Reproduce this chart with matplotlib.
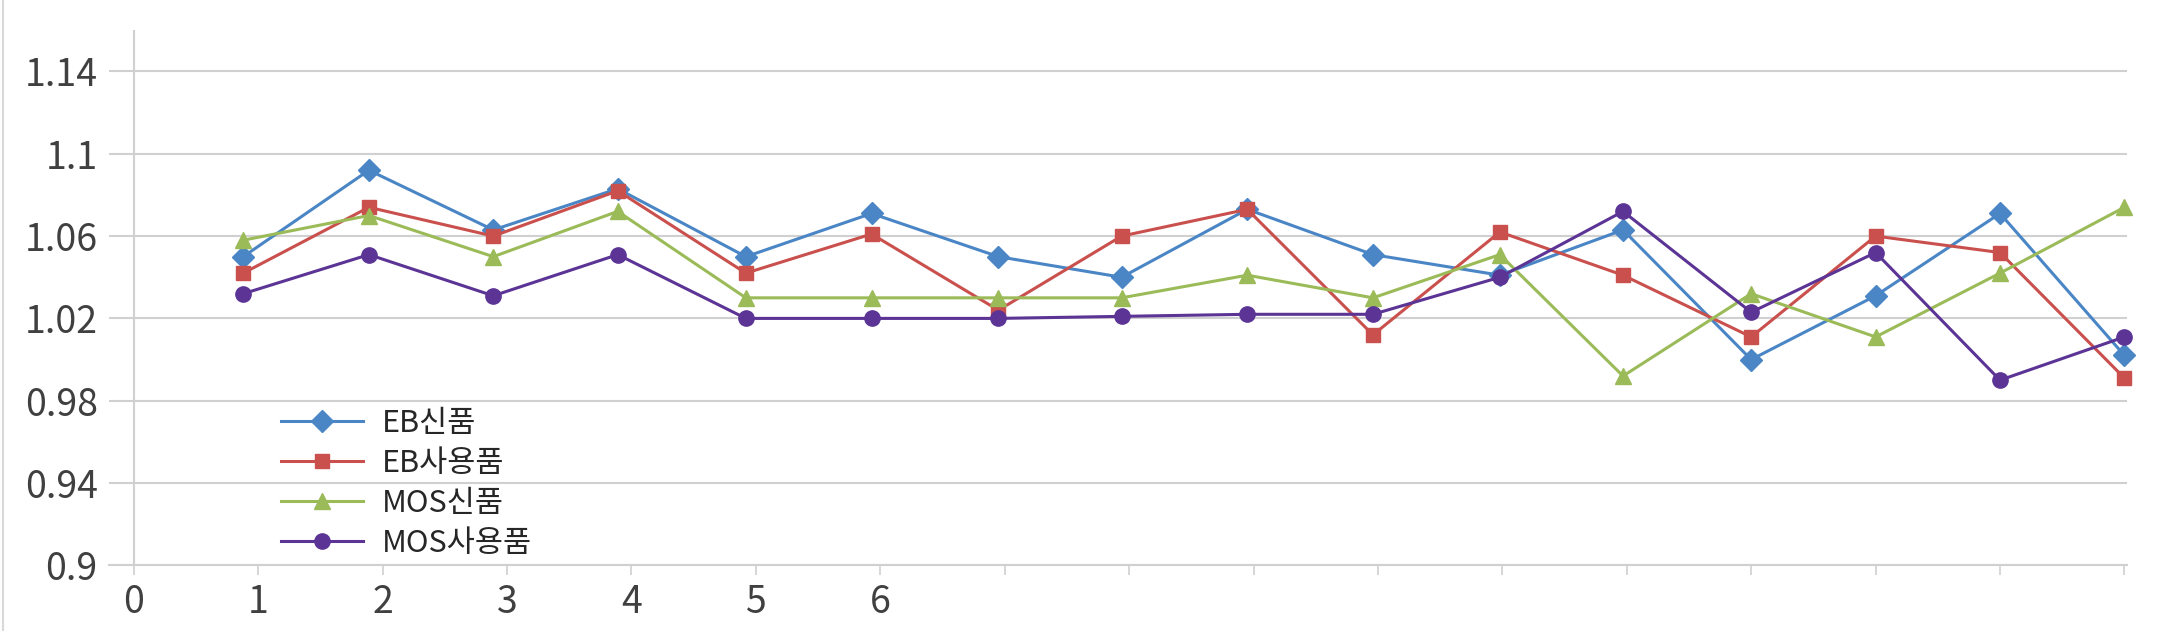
import matplotlib
matplotlib.use("Agg")
import matplotlib.pyplot as plt
from matplotlib.lines import Line2D

plt.rcParams['font.family'] = ['Noto Sans CJK KR', 'DejaVu Sans']

# x positions of the 16 samples (slightly left of the ticks at first)
x_pos = [0.88, 1.89, 2.89, 3.89, 4.92, 5.93, 6.95, 7.94,
         8.95, 9.96, 10.98, 11.97, 13.0, 14.0, 15.0, 16.0]

eb_new = [1.050, 1.092, 1.063, 1.083, 1.050, 1.071, 1.050, 1.040,
          1.073, 1.051, 1.041, 1.063, 1.000, 1.031, 1.071, 1.002]
eb_used = [1.042, 1.074, 1.060, 1.082, 1.042, 1.061, 1.024, 1.060,
           1.073, 1.012, 1.062, 1.041, 1.011, 1.060, 1.052, 0.991]
mos_new = [1.058, 1.070, 1.050, 1.072, 1.030, 1.030, 1.030, 1.030,
           1.041, 1.030, 1.051, 0.992, 1.032, 1.011, 1.042, 1.074]
mos_used = [1.032, 1.051, 1.031, 1.051, 1.020, 1.020, 1.020, 1.021,
            1.022, 1.022, 1.040, 1.072, 1.023, 1.052, 0.990, 1.011]

labels = ["EB신품", "EB사용품", "MOS신품", "MOS사용품"]
colors = ["#4A86C5", "#C9504D", "#9BBB59", "#5B3495"]
markers = ["D", "s", "^", "o"]
msizes = [11, 10, 11, 11]

y_ticks = [0.9, 0.94, 0.98, 1.02, 1.06, 1.1, 1.14]
x_ticks = list(range(0, 17))
x_ticklabels = ["0", "1", "2", "3", "4", "5", "6"] + [""] * 10

fig = plt.figure(figsize=(21.77, 6.31), dpi=100)
ax = fig.add_axes([0.050, 0.104, 0.927, 0.848])

for ys, lab, c, m, ms in zip([eb_new, eb_used, mos_new, mos_used],
                             labels, colors, markers, msizes):
    ax.plot(x_pos, ys, color=c, marker=m, markersize=ms, linewidth=2.2,
            label=lab, zorder=3, clip_on=False)

ax.set_xlim(-0.2, 16.02)
ax.set_ylim(0.9, 1.16)
ax.set_yticks(y_ticks)
ax.set_yticklabels(["0.9", "0.94", "0.98", "1.02", "1.06", "1.1", "1.14"])
ax.set_xticks(x_ticks)
ax.set_xticklabels(x_ticklabels)

ax.grid(axis='y', color="#D0D0D0", linewidth=1.5, zorder=0)
for s in ["top", "right", "left"]:
    ax.spines[s].set_visible(False)
ax.spines["bottom"].set_color("#D0D0D0")
ax.spines["bottom"].set_linewidth(1.5)
ax.axvline(0, color="#D0D0D0", linewidth=1.5, zorder=1)

ax.tick_params(axis='y', length=0, pad=8, labelsize=27, labelcolor="#404040")
ax.tick_params(axis='x', direction='out', length=7, width=1.2, color="#D0D0D0",
               pad=6, labelsize=27, labelcolor="#404040")
for t in ax.get_xticklabels() + ax.get_yticklabels():
    t.set_fontweight("light")

leg = ax.legend(loc="lower left", bbox_to_anchor=(0.0792, -0.011), frameon=False,
                fontsize=22, handlelength=2.7, labelspacing=0.3,
                handletextpad=0.6, borderaxespad=0.0)
for t in leg.get_texts():
    t.set_color("#262626")

# faint outer border on the left
fig.add_artist(Line2D([0.0012, 0.0012], [0, 1], transform=fig.transFigure,
                      color="#D9D9D9", linewidth=1.5))

fig.savefig("out.png", dpi=100, facecolor="white")
